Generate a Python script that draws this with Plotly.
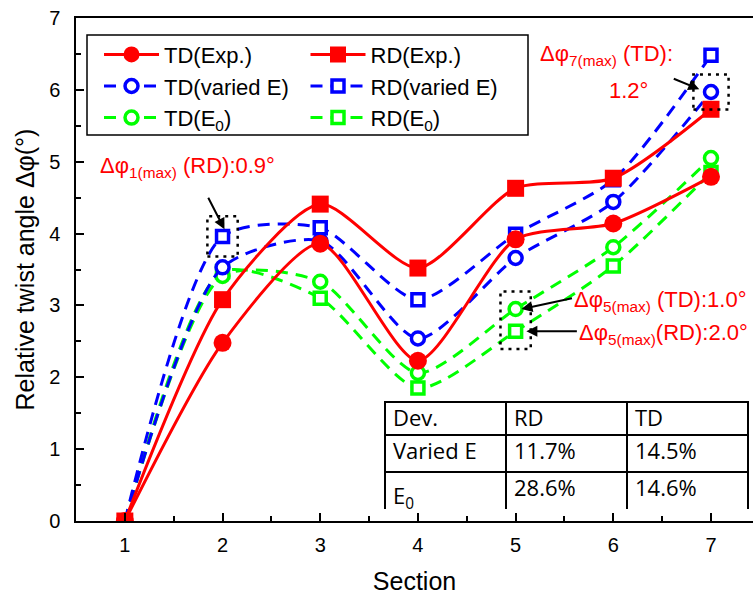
import plotly.graph_objects as go

# Relative twist angle per section: experiments vs. simulations
sections = [1, 2, 3, 4, 5, 6, 7]
td_exp = [0, 2.48, 3.86, 2.23, 3.92, 4.14, 4.79]
rd_exp = [0, 3.08, 4.41, 3.52, 4.63, 4.77, 5.73]
td_varied = [0, 3.53, 3.90, 2.54, 3.66, 4.44, 5.97]
rd_varied = [0, 3.96, 4.08, 3.08, 3.99, 4.75, 6.48]
td_e0 = [0, 3.41, 3.33, 2.06, 2.95, 3.81, 5.05]
rd_e0 = [0, 3.47, 3.10, 1.85, 2.64, 3.55, 4.85]

# Deviation table
table_header = ["Dev.", "RD", "TD"]
table_model = ["Varied E", "E<sub>0</sub>"]
table_rd = ["11.7%", "28.6%"]
table_td = ["14.5%", "14.6%"]

RED, BLUE, GREEN = "#ff0000", "#0000ff", "#00ff00"
FONT = "Liberation Sans, Arial, sans-serif"

fig = go.Figure()

series = [
    # name, y, colour, symbol, size, dash, legend, rank, hollow
    ("RD(E<sub>0</sub>)", rd_e0, GREEN, "square", 12, "12px,8px", "legend2", 3, True),
    ("TD(E<sub>0</sub>)", td_e0, GREEN, "circle", 13, "12px,8px", "legend", 3, True),
    ("RD(varied E)", rd_varied, BLUE, "square", 12, "12px,8px", "legend2", 2, True),
    ("TD(varied E)", td_varied, BLUE, "circle", 13, "12px,8px", "legend", 2, True),
    ("RD(Exp.)", rd_exp, RED, "square", 17, "solid", "legend2", 1, False),
    ("TD(Exp.)", td_exp, RED, "circle", 18, "solid", "legend", 1, False),
]
for name, y, col, sym, size, dash, leg, rank, hollow in series:
    fig.add_trace(go.Scatter(
        x=sections, y=y, name=name, mode="lines+markers",
        line=dict(color=col, width=3, dash=dash, shape="spline", smoothing=0.7),
        marker=dict(symbol=sym, size=size, color="white" if hollow else col,
                    line=dict(color=col, width=3.5 if hollow else 0)),
        legend=leg, legendrank=rank,
    ))

# Deviation table in the lower right
fig.add_trace(go.Table(
    domain=dict(x=[0.4564, 0.9926], y=[0.0219, 0.2366]),
    columnwidth=[1, 1, 1],
    header=dict(values=table_header, align="left", height=33,
                line=dict(color="black", width=2), fill=dict(color="white"),
                font=dict(family="Open Sans, sans-serif", size=22, color="black")),
    cells=dict(values=[table_model, table_rd, table_td], align="left", height=37,
               line=dict(color="black", width=2), fill=dict(color="white"),
               font=dict(family="Open Sans, sans-serif", size=22, color="black")),
))

# Dotted boxes around the points with maximum deviation
boxes = [
    (sections[1], rd_varied[1], 0.155, 0.28),
    (sections[6], td_varied[6], 0.18, 0.245),
    (sections[4], (td_e0[4] + rd_e0[4]) / 2, 0.155, 0.40),
]
for cx, cy, hw, hh in boxes:
    fig.add_shape(type="rect", xref="x", yref="y",
                  x0=cx - hw, x1=cx + hw, y0=cy - hh, y1=cy + hh,
                  line=dict(color="black", width=2.5, dash="3px,5px"))

# Arrows pointing at the boxed points
arrows = [
    (sections[1] + 0.02, rd_varied[1] + 0.1, -17, -33),
    (sections[6] - 0.12, td_varied[6] + 0.04, -27, -11),
    (sections[4] + 0.06, td_e0[4], 52, -11),
    (sections[4] + 0.11, rd_e0[4], 52, 0),
]
for ax_, ay_, dx, dy in arrows:
    fig.add_annotation(x=ax_, y=ay_, xref="x", yref="y", text="",
                       showarrow=True, arrowhead=2, arrowsize=1.1,
                       arrowwidth=2, arrowcolor="black", ax=dx, ay=dy)

labels = [
    ("Δφ<sub>1(max)</sub> (RD):0.9°", 98, 167),
    ("Δφ<sub>7(max)</sub> (TD):", 538, 55),
    ("1.2°", 607, 90),
    ("Δφ<sub>5(max)</sub> (TD):1.0°", 572, 301),
    ("Δφ<sub>5(max)</sub>(RD):2.0°", 577, 334),
]
for txt, px, py in labels:
    fig.add_annotation(x=(px - 76) / 677, y=(521 - py) / 503, xref="paper", yref="paper",
                       text=txt, showarrow=False, xanchor="left", yanchor="middle",
                       font=dict(family=FONT, size=22, color=RED))

# Legend frame
fig.add_shape(type="rect", xref="paper", yref="paper",
              x0=(87 - 76) / 677, x1=(528 - 76) / 677,
              y0=(521 - 135) / 503, y1=(521 - 35) / 503,
              line=dict(color="black", width=1.5), fillcolor="rgba(0,0,0,0)")

legend_style = dict(xanchor="left", yanchor="top", bgcolor="rgba(0,0,0,0)",
                    borderwidth=0, font=dict(family=FONT, size=22, color="black"),
                    itemwidth=55, tracegroupgap=0, traceorder="normal")

fig.update_layout(
    width=753, height=598,
    margin=dict(l=76, r=0, t=18, b=77),
    paper_bgcolor="white", plot_bgcolor="white",
    font=dict(family=FONT, color="black"),
    legend=dict(x=0.034, y=0.969, **legend_style),
    legend2=dict(x=0.339, y=0.969, **legend_style),
    xaxis=dict(range=[0.5, 7.43], tickmode="array", tickvals=sections,
               showline=True, linecolor="black", linewidth=1.5, mirror=True,
               ticks="inside", ticklen=8, tickwidth=1.5, tickcolor="black",
               minor=dict(ticks="inside", ticklen=5, tickwidth=1.5, dtick=0.5, tick0=0.5,
                          tickcolor="black"),
               showgrid=False, zeroline=False,
               tickfont=dict(size=20), ticklabelstandoff=5,
               title=dict(text="Section", font=dict(size=25), standoff=18)),
    yaxis=dict(range=[0, 7], dtick=1, showline=True, linecolor="black", linewidth=1.5,
               ticks="inside", ticklen=8, tickwidth=1.5, tickcolor="black",
               minor=dict(ticks="inside", ticklen=5, tickwidth=1.5, dtick=0.5,
                          tickcolor="black"),
               showgrid=False, zeroline=False,
               tickfont=dict(size=20), ticklabelstandoff=10,
               title=dict(text="Relative twist angle Δφ(°)", font=dict(size=25), standoff=7)),
)

fig.write_html("out.html")
